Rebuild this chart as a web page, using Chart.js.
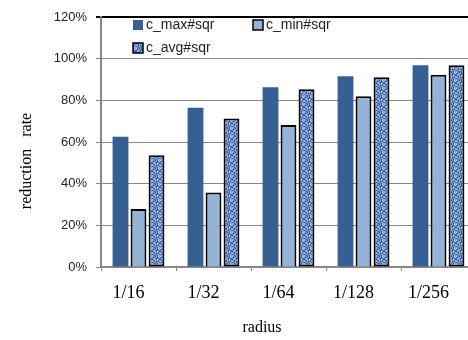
<!DOCTYPE html>
<html>
<head>
<meta charset="utf-8">
<script src="https://cdn.jsdelivr.net/npm/chart.js@4"></script>
<style>
  html, body { margin: 0; padding: 0; background: #fff; overflow: hidden; }
  #wrap { width: 480px; height: 340px; }
</style>
</head>
<body>
<div id="wrap"><canvas id="rateChart" width="480" height="340"></canvas></div>
<script>
const radius = ['1/16', '1/32', '1/64', '1/128', '1/256'];
const cMax = [62.5, 76.5, 86.3, 91.6, 96.8];
const cMin = [27.8, 35.8, 68.2, 82.0, 92.3];
const cAvg = [53.6, 71.3, 85.3, 91.1, 96.8];
const yTicks = [0, 20, 40, 60, 80, 100, 120];

// speckled texture for c_avg bars
const tex = [
  '21030120',
  '03121302',
  '10203011',
  '32011203',
  '01320210',
  '20103132',
  '13021001',
  '02310320'
];
const texColors = ['#7f9fd6', '#4a6fae', '#b4caec', '#27497f'];
const pc = document.createElement('canvas');
pc.width = 8; pc.height = 8;
const pctx = pc.getContext('2d');
tex.forEach((row, y) => {
  for (let x = 0; x < 8; x++) {
    pctx.fillStyle = texColors[+row[x]];
    pctx.fillRect(x, y, 1, 1);
  }
});
const ctx = document.getElementById('rateChart').getContext('2d');
const speckle = ctx.createPattern(pc, 'repeat');

const serif = '"Liberation Serif", "Times New Roman", serif';

// legend inside the plot + axis titles placed like the original
const extras = {
  id: 'extras',
  afterDraw(chart) {
    const c = chart.ctx;
    const items = [
      { text: 'c_max#sqr', x: 133, y: 25, fill: '#376092', border: null },
      { text: 'c_min#sqr', x: 253, y: 25, fill: '#95b3d7', border: '#000' },
      { text: 'c_avg#sqr', x: 133, y: 48, fill: speckle, border: '#000' }
    ];
    c.save();
    c.font = '14px "Liberation Sans", Arial, sans-serif';
    c.textBaseline = 'middle';
    items.forEach(it => {
      c.fillStyle = it.fill;
      c.fillRect(it.x, it.y - 5, 10, 10);
      if (it.border) {
        c.strokeStyle = it.border;
        c.lineWidth = 1.5;
        c.strokeRect(it.x, it.y - 5, 10, 10);
      }
      c.fillStyle = '#222';
      c.fillText(it.text, it.x + 13, it.y);
    });

    c.fillStyle = '#000';
    c.font = '16px ' + serif;
    c.textAlign = 'center';
    c.fillText('radius', 262, 328);

    c.translate(27, 161);
    c.rotate(-Math.PI / 2);
    c.fillText('reduction   rate', 0, 0);
    c.restore();
  }
};

new Chart(ctx, {
  type: 'bar',
  data: {
    labels: radius,
    datasets: [{
      label: 'c_max#sqr',
      data: cMax,
      backgroundColor: '#376092',
      borderWidth: 0
    },
    {
      label: 'c_min#sqr',
      data: cMin,
      backgroundColor: '#95b3d7',
      borderColor: '#000',
      borderWidth: 2,
      borderSkipped: 'bottom'
    },
    {
      label: 'c_avg#sqr',
      data: cAvg,
      backgroundColor: speckle,
      borderColor: '#000',
      borderWidth: 2,
      borderSkipped: false
    }]
  },
  options: {
    responsive: false,
    animation: false,
    devicePixelRatio: 1,
    layout: { padding: { left: 0, right: 4, top: 17, bottom: 0 } },
    datasets: {
      bar: { categoryPercentage: 0.72, barPercentage: 0.88 }
    },
    plugins: {
      legend: { display: false },
      tooltip: { enabled: false }
    },
    scales: {
      x: {
        grid: {
          drawOnChartArea: false,
          drawTicks: true,
          tickLength: 4,
          color: '#888'
        },
        border: { color: '#888', width: 2 },
        ticks: {
          color: '#000',
          font: { family: serif, size: 18 },
          padding: 11,
          labelOffset: -10
        },
        afterFit(scale) { scale.height = 73; }
      },
      y: {
        min: 0,
        max: 120,
        afterBuildTicks(scale) { scale.ticks = yTicks.map(v => ({ value: v })); },
        grid: {
          color: c => c.tick && c.tick.value === 120 ? '#000' : '#888',
          lineWidth: c => c.tick && c.tick.value === 120 ? 2 : 1,
          tickLength: 5,
          drawTicks: true
        },
        border: { color: '#888', width: 2 },
        ticks: {
          color: '#222',
          padding: 9,
          font: { family: '"Liberation Sans", Arial, sans-serif', size: 13 },
          callback: v => v + '%'
        },
        afterFit(scale) { scale.width = 101; }
      }
    }
  },
  plugins: [extras]
});
</script>
</body>
</html>
